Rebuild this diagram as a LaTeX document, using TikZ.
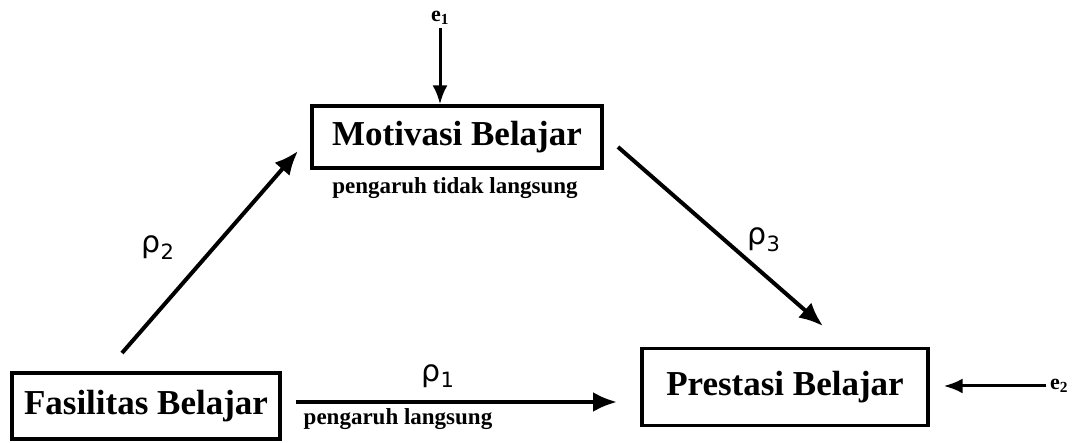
\documentclass[tikz,border=0pt]{standalone}
\usepackage{fontspec}
\setmainfont{Liberation Serif}
\newfontfamily\rhofont{DejaVu Sans}
\usetikzlibrary{arrows.meta}

\tikzset{
  varbox/.style={draw, line width=3.4pt, inner sep=0pt, align=center,
    font=\fontsize{35}{38}\selectfont\bfseries},
  path/.style={line width=4pt, -{Latex[length=24pt,width=20pt]}},
  errarrow/.style={line width=3pt, -{Latex[length=19pt,width=15pt]}},
  coef/.style={font=\rhofont\fontsize{30}{32}\selectfont},
  effect/.style={font=\fontsize{23}{26}\selectfont\bfseries},
  errlabel/.style={font=\fontsize{22}{24}\selectfont\bfseries}
}

\begin{document}
\begin{tikzpicture}[x=1pt, y=-1pt]
  \useasboundingbox (0,0) rectangle (1077,443);

  % variables
  \node[varbox, minimum width=290pt, minimum height=62pt] (mot) at (457,137) {Motivasi Belajar};
  \node[varbox, minimum width=286pt, minimum height=77pt] (pres) at (785,387) {Prestasi Belajar};
  \node[varbox, minimum width=268pt, minimum height=66pt] (fas) at (146,406) {Fasilitas Belajar};

  % error terms
  \node[errlabel] (e1) at (440,18) {e\textsubscript{1}};
  \node[errlabel] (e2) at (1059,386) {e\textsubscript{2}};
  \draw[errarrow] (e1.south) -- (e1.south |- mot.north);
  \draw[errarrow] (e2.west) -- ([xshift=14pt]pres.east |- e2.west);

  % path ends
  \coordinate (p2s) at (122,353);
  \coordinate (p2e) at (298,151);
  \coordinate (p3s) at (618,147);
  \coordinate (p3e) at (823,326);
  \coordinate (p1s) at (296,402);
  \coordinate (p1e) at (617,402);

  % paths
  \draw[path] (p2s) -- (p2e);
  \draw[path] (p3s) -- (p3e);
  \draw[path] (p1s) -- (p1e);

  % coefficients
  \node[coef] (r1) at (438,376) {ρ\textsubscript{1}};
  \node[coef] (r2) at (158,248) {ρ\textsubscript{2}};
  \node[coef] (r3) at (764,240) {ρ\textsubscript{3}};

  % effect labels
  \node[effect] (ind) at (455,188) {pengaruh tidak langsung};
  \node[effect] (dir) at (398,419) {pengaruh langsung};
\end{tikzpicture}
\end{document}
